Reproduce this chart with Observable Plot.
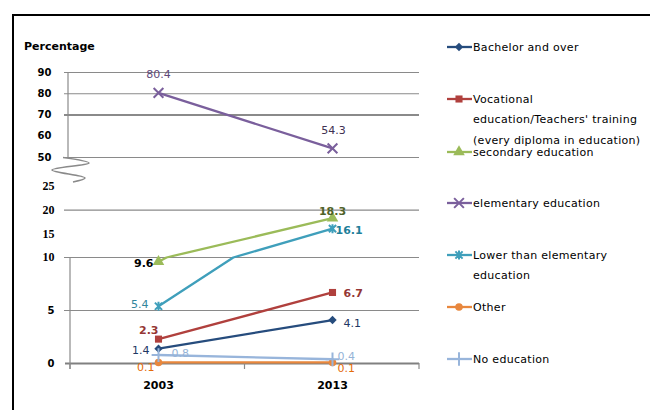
<!DOCTYPE html>
<html><head><meta charset="utf-8">
<script src="https://cdn.jsdelivr.net/npm/d3@7"></script>
<script src="https://cdn.jsdelivr.net/npm/@observablehq/plot@0.6"></script>
<style>
html,body{margin:0;padding:0;background:#fff;overflow:hidden}
#wrap{position:relative;width:650px;height:410px;overflow:hidden;font-family:"DejaVu Sans",sans-serif}
#frame{position:absolute;left:12px;top:14px;width:700px;height:500px;border-top:2px solid #000;border-left:2px solid #000}
#chart{position:absolute;left:0;top:0}
#ytitle{position:absolute;left:24px;top:40px;font-size:11px;line-height:13px;font-weight:bold;color:#000}
#legend{position:absolute;left:0;top:0}
</style></head><body>
<div id="wrap"><div id="frame"></div><div id="chart"></div><div id="ytitle">Percentage</div><svg id="legend" width="650" height="410"></svg></div>
<script>
// ---- data ----
const years = [2003, 2013];
const seriesNames = [
  "Bachelor and over",
  "Vocational education/Teachers' training (every diploma in education)",
  "secondary education",
  "elementary education",
  "Lower than elementary education",
  "Other",
  "No education"
];
const bachelor = [1.4, 4.1];
const vocational = [2.3, 6.7];
const secondary = [9.6, 18.3];
const elementary = [80.4, 54.3];
const lowerThanElementary = [5.4, 16.1];
const other = [0.1, 0.1];
const noEducation = [0.8, 0.4];
const yTicksLow = [0, 5, 10, 15, 20, 25];
const yTicksHigh = [50, 60, 70, 80, 90];

// ---- broken (piecewise) y scale ----
const yDomain = [0, 10, 25, 50, 90];
const yRange = [363, 257, 186, 157, 72];
const yPix = d3.scaleLinear().domain(yDomain).range(yRange);

// straight lines in data space (bend where a segment crosses a scale knot)
function dataSpaceLinear(context) {
  let pts = [];
  return {
    areaStart() {}, areaEnd() {},
    lineStart() { pts = []; },
    point(x, y) { pts.push([+x, +y]); },
    lineEnd() {
      if (!pts.length) return;
      context.moveTo(pts[0][0], pts[0][1]);
      for (let i = 1; i < pts.length; i++) {
        const [x0, y0] = pts[i - 1], [x1, y1] = pts[i];
        const v0 = yPix.invert(y0), v1 = yPix.invert(y1);
        const knots = yDomain.filter(k => (k - v0) * (k - v1) < 0).sort((a, b) => v1 > v0 ? a - b : b - a);
        for (const k of knots) {
          const t = (k - v0) / (v1 - v0);
          context.lineTo(x0 + t * (x1 - x0), yPix(k));
        }
        context.lineTo(x1, y1);
      }
    }
  };
}

// marker shapes
const excelStar = {draw(ctx, size) {
  const r = Math.sqrt(size / Math.PI), d = r * 0.8;
  ctx.moveTo(-d, -d); ctx.lineTo(d, d);
  ctx.moveTo(d, -d); ctx.lineTo(-d, d);
  ctx.moveTo(0, -r); ctx.lineTo(0, r);
}};
const excelDiamond = {draw(ctx, size) {
  const r = Math.sqrt(size / Math.PI) * 1.05;
  ctx.moveTo(0, -r); ctx.lineTo(r, 0); ctx.lineTo(0, r); ctx.lineTo(-r, 0); ctx.closePath();
}};
const symbolMap = {square: d3.symbolSquare, triangle: d3.symbolTriangle, times: d3.symbolTimes, circle: d3.symbolCircle, plus: d3.symbolPlus};

const series = [
  {name: seriesNames[0], values: bachelor, color: "#264C7D", symbol: excelDiamond, filled: true, r: 4,
   labels: [{dx: -9, dy: 2, anchor: "end", fill: "#1F3864"}, {dx: 11, dy: 3, anchor: "start", fill: "#1F3864"}]},
  {name: seriesNames[1], values: vocational, color: "#B0403D", symbol: "square", filled: true, r: 4,
   labels: [{dx: 0, dy: -9, anchor: "end", fill: "#953735", bold: true}, {dx: 11, dy: 1, anchor: "start", fill: "#953735", bold: true}]},
  {name: seriesNames[2], values: secondary, color: "#9BBB59", symbol: "triangle", filled: true, r: 4.3,
   labels: [{dx: -5, dy: 2, anchor: "end", fill: "#000", bold: true}, {dx: 0, dy: -7, anchor: "middle", fill: "#4F6228", bold: true}]},
  {name: seriesNames[3], values: elementary, color: "#7A5F9C", symbol: "times", filled: false, r: 4.5,
   labels: [{dx: 0, dy: -18, anchor: "middle", fill: "#5F497A"}, {dx: 1, dy: -18, anchor: "middle", fill: "#403152"}]},
  {name: seriesNames[4], values: lowerThanElementary, color: "#3F9FBB", symbol: excelStar, filled: false, r: 4.5,
   labels: [{dx: -10, dy: -2, anchor: "end", fill: "#31859C"}, {dx: 3, dy: 2, anchor: "start", fill: "#1F7F9A", bold: true}]},
  {name: seriesNames[5], values: other, color: "#E8873D", symbol: "circle", filled: true, r: 3.8,
   labels: [{dx: -4, dy: 5, anchor: "end", fill: "#E46C0A"}, {dx: 5, dy: 6, anchor: "start", fill: "#E46C0A"}]},
  {name: seriesNames[6], values: noEducation, color: "#98B5DB", symbol: "plus", filled: false, r: 4.5,
   labels: [{dx: 13, dy: -1.5, anchor: "start", fill: "#95B3D7"}, {dx: 5, dy: -3, anchor: "start", fill: "#95B3D7"}]}
];

// decorations: axis lines, x ticks, axis-break squiggle
function decor(index, scales, values, dims) {
  const {width, marginLeft, marginRight} = dims;
  const left = marginLeft, right = width - marginRight, y = scales.y;
  const g = d3.create("svg:g").attr("fill", "none").attr("stroke", "#8a8a8a").attr("stroke-width", 1.2);
  g.append("line").attr("x1", left - 2).attr("x2", left - 2).attr("y1", y(90)).attr("y2", y(50));
  g.append("line").attr("x1", left).attr("x2", left).attr("y1", y(10)).attr("y2", y(0) + 6);
  for (const x of [left, (left + right) / 2, right])
    g.append("line").attr("x1", x).attr("x2", x).attr("y1", y(0)).attr("y2", y(0) + 6);
  const y50 = y(50);
  const pts = [[left - 7, y50 + 0.5], [left + 19, y50 + 6], [left - 18, y50 + 13], [left + 15, y50 + 21], [left + 3, y50 + 25]];
  g.append("path").attr("d", d3.line().curve(d3.curveCatmullRom)(pts)).attr("stroke-width", 1.6);
  return g.node();
}

const marks = [
  Plot.ruleY([90, 80, 50, 20, 10, 5], {stroke: "#8a8a8a", strokeWidth: 1.2, insetLeft: -6}),
  Plot.ruleY([70], {stroke: "#8a8a8a", strokeWidth: 2.2, insetLeft: -6}),
  Plot.ruleY([0], {stroke: "#808080", strokeWidth: 2.2, insetLeft: -5}),
  decor,
  Plot.axisY([0, 5], {tickSize: 0, tickPadding: 16, fontWeight: "bold", fontSize: 10, label: null}),
  Plot.axisY([10, 15, 20, 25], {tickSize: 0, tickPadding: 16, fontWeight: "bold", fontSize: 12, fontFamily: "Liberation Serif", label: null}),
  Plot.axisY(yTicksHigh, {tickSize: 0, tickPadding: 19, fontWeight: "bold", fontSize: 10, label: null}),
  Plot.axisX({tickSize: 0, tickPadding: 18, fontWeight: "bold", fontSize: 11, tickFormat: d => `${d}`, label: null})
];
for (const s of series) {
  marks.push(Plot.line(years, {x: years, y: s.values, stroke: s.color, strokeWidth: 2.3, curve: dataSpaceLinear}));
}
for (const s of series) {
  marks.push(Plot.dot(years, s.filled
    ? {x: years, y: s.values, symbol: s.symbol, r: s.r, fill: s.color, stroke: "none"}
    : {x: years, y: s.values, symbol: s.symbol, r: s.r, fill: "none", stroke: s.color, strokeWidth: 2}));
}
for (const s of series) {
  s.labels.forEach((L, i) => {
    marks.push(Plot.text([years[i]], {x: [years[i]], y: [s.values[i]], text: [String(s.values[i])],
      dx: L.dx, dy: L.dy, textAnchor: L.anchor, fill: L.fill, fontSize: 11, fontWeight: L.bold ? "bold" : "normal"}));
  });
}

const chart = Plot.plot({
  width: 650, height: 410,
  marginLeft: 70, marginRight: 231, marginTop: 72, marginBottom: 47,
  x: {type: "point", domain: years, padding: 0.5},
  y: {type: "linear", domain: yDomain, range: yRange},
  style: {fontFamily: "DejaVu Sans", fontSize: "11px", background: "transparent", color: "#000"},
  marks
});
document.getElementById("chart").appendChild(chart);

// ---- legend ----
const legendY = [47, 99, 152, 203, 255, 307, 359];
const legendLines = [
  ["Bachelor and over"],
  ["Vocational", "education/Teachers' training", "(every diploma in education)"],
  ["secondary education"],
  ["elementary education"],
  ["Lower than elementary", "education"],
  ["Other"],
  ["No education"]
];
const leg = d3.select("#legend");
series.forEach((s, i) => {
  const y = legendY[i];
  const g = leg.append("g");
  g.append("line").attr("x1", 447).attr("x2", 472).attr("y1", y).attr("y2", y).attr("stroke", s.color).attr("stroke-width", 2.3);
  const type = typeof s.symbol === "string" ? symbolMap[s.symbol] : s.symbol;
  const p = g.append("path").attr("transform", `translate(459,${y})`).attr("d", d3.symbol().type(type).size(Math.PI * s.r * s.r)());
  if (s.filled) p.attr("fill", s.color); else p.attr("fill", "none").attr("stroke", s.color).attr("stroke-width", 2);
  legendLines[i].forEach((t, j) => {
    g.append("text").attr("x", 473).attr("y", y + j * 20.5).attr("dominant-baseline", "central")
      .attr("font-family", "DejaVu Sans").attr("font-size", 11).attr("letter-spacing", 0.3).attr("fill", "#000").text(t);
  });
});
</script>
</body></html>
